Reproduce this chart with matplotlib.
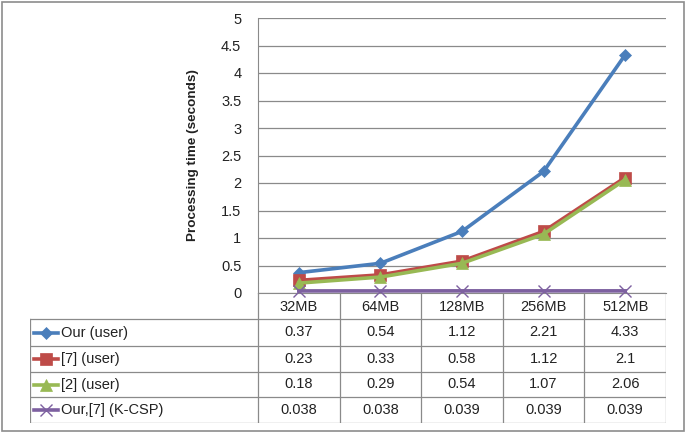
import matplotlib.pyplot as plt
from matplotlib.patches import Rectangle

plt.rcParams['font.family'] = ['Liberation Sans', 'DejaVu Sans']

sizes = ['32MB', '64MB', '128MB', '256MB', '512MB']
series_names = ['Our (user)', '[7] (user)', '[2] (user)', 'Our,[7] (K-CSP)']
our_user = [0.37, 0.54, 1.12, 2.21, 4.33]
ref7_user = [0.23, 0.33, 0.58, 1.12, 2.1]
ref2_user = [0.18, 0.29, 0.54, 1.07, 2.06]
kcsp = [0.038, 0.038, 0.039, 0.039, 0.039]
cell_text = [['0.37', '0.54', '1.12', '2.21', '4.33'],
             ['0.23', '0.33', '0.58', '1.12', '2.1'],
             ['0.18', '0.29', '0.54', '1.07', '2.06'],
             ['0.038', '0.038', '0.039', '0.039', '0.039']]
yticks = [0, 0.5, 1, 1.5, 2, 2.5, 3, 3.5, 4, 4.5, 5]

colors = ['#4A7EBB', '#BE4B48', '#98B954', '#7D60A0']
markers = ['D', 's', '^', 'x']
msizes = [6, 8, 8, 8]
fs = 10.5

W, H = 685, 432
fig = plt.figure(figsize=(W / 100, H / 100), dpi=100)

def box(x0, y0, x1, y1):
    return [x0 / W, 1 - y1 / H, (x1 - x0) / W, (y1 - y0) / H]

# outer frame
fig.patches.append(Rectangle((1.5 / W, 1.5 / H), (W - 3) / W, (H - 3) / H,
                             transform=fig.transFigure, fill=False,
                             edgecolor='#8c8c8c', lw=1.2))

grid_c = '#8a8a8a'
tc = '#222222'

ax = fig.add_axes(box(258, 18, 666, 293))
n = len(sizes)
xs = list(range(n))
for vals, c, m, ms in zip([our_user, ref7_user, ref2_user, kcsp], colors, markers, msizes):
    ax.plot(xs, vals, color=c, marker=m, markersize=ms, lw=2.6,
            markeredgewidth=1.0 if m == 'x' else 0.5, clip_on=False, zorder=3)
ax.set_xlim(-0.5, n - 0.5)
ax.set_ylim(0, 5)
ax.set_yticks(yticks)
ax.set_yticklabels(['%g' % t for t in yticks], fontsize=fs, color=tc)
ax.set_xticks([])
ax.tick_params(axis='y', length=0, pad=12)
ax.grid(axis='y', color=grid_c, lw=0.9)
for s in ['top', 'right']:
    ax.spines[s].set_visible(False)
ax.spines['left'].set_color(grid_c)
ax.spines['bottom'].set_color(grid_c)
ax.set_ylabel('Processing time (seconds)', fontsize=9.7, fontweight='bold',
              color=tc, labelpad=16)

# data table
tab = fig.add_axes(box(30, 293, 666, 423))
tab.set_xlim(0, 636)
tab.set_ylim(130, 0)
tab.axis('off')
label_w = 228
col_w = (636 - label_w) / n
row_y = [0, 26, 53, 79, 104, 130]
lk = dict(color=grid_c, lw=0.9)
for i in range(n + 1):
    x = label_w + i * col_w
    tab.plot([x, x], [0, 130], **lk)
tab.plot([0, 0], [row_y[1], 130], **lk)
for y in row_y[1:]:
    tab.plot([0, 636], [y, y], **lk)
for i, s in enumerate(sizes):
    tab.text(label_w + (i + 0.5) * col_w, (row_y[0] + row_y[1]) / 2 + 1, s,
             ha='center', va='center', fontsize=fs, color=tc)
for r, name in enumerate(series_names):
    yc = (row_y[r + 1] + row_y[r + 2]) / 2
    tab.plot([4, 28], [yc, yc], color=colors[r], lw=2.6)
    tab.plot([16], [yc], marker=markers[r], color=colors[r], markersize=msizes[r],
             markeredgewidth=1.0 if markers[r] == 'x' else 0.5)
    tab.text(31, yc, name, ha='left', va='center', fontsize=fs, color=tc)
    for i, t in enumerate(cell_text[r]):
        tab.text(label_w + (i + 0.5) * col_w, yc, t, ha='center', va='center',
                 fontsize=fs, color=tc)

fig.savefig('out.png', dpi=100)
